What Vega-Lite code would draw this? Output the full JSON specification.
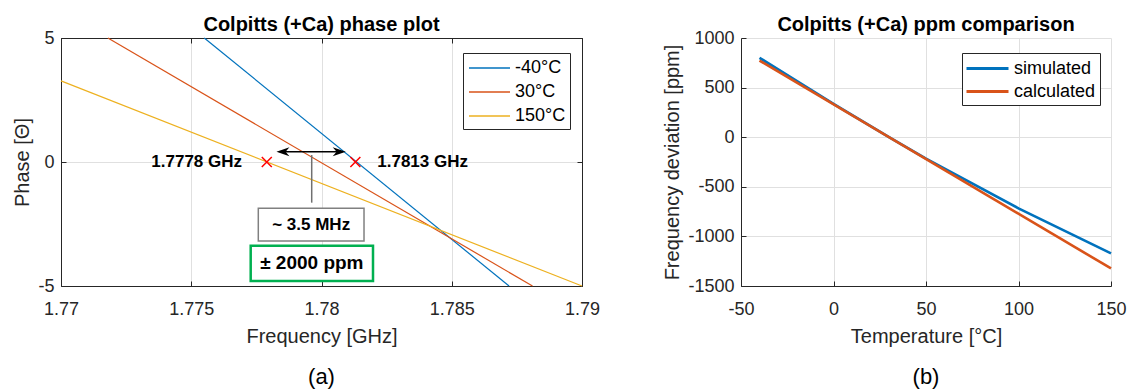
{
  "$schema": "https://vega.github.io/schema/vega-lite/v6.json",
  "background": "white",
  "padding": {"left": 12, "top": 15, "right": 0, "bottom": 0},
  "autosize": {"type": "pad"},
  "spacing": 159,
  "bounds": "flush",
  "config": {
    "view": {"stroke": null},
    "font": "Liberation Sans",
    "axis": {
      "domainColor": "#262626", "domainWidth": 1,
      "tickColor": "#262626", "tickSize": -5, "tickWidth": 1,
      "labelColor": "#262626", "labelFont": "Liberation Sans", "labelFontSize": 18,
      "titleFont": "Liberation Sans", "titleFontSize": 20, "titleFontWeight": "normal", "titleColor": "#262626",
      "gridColor": "#e0e0e0", "gridWidth": 1,
      "labelFlush": false, "labelOverlap": false
    },
    "axisX": {"labelPadding": 19, "titlePadding": 8},
    "axisY": {"labelPadding": 12, "titlePadding": 5},
    "title": {"font": "Liberation Sans", "fontSize": 20, "fontWeight": "bold", "color": "#000000", "anchor": "middle", "offset": -6, "baseline": "alphabetic"}
  },
  "datasets": {
    "phase": [
      {"freq": 1.7755, "phase": 5, "temp": "-40°C"},
      {"freq": 1.7872, "phase": -5, "temp": "-40°C"},
      {"freq": 1.7718, "phase": 5, "temp": "30°C"},
      {"freq": 1.7881, "phase": -5, "temp": "30°C"},
      {"freq": 1.77, "phase": 3.27, "temp": "150°C"},
      {"freq": 1.79, "phase": -5, "temp": "150°C"}
    ],
    "markers": [
      {"freq": 1.7779, "phase": 0},
      {"freq": 1.7813, "phase": 0}
    ],
    "sim": [
      {"T": -40, "ppm": 800, "method": "simulated"},
      {"T": 0, "ppm": 335, "method": "simulated"},
      {"T": 30, "ppm": 0, "method": "simulated"},
      {"T": 50, "ppm": -215, "method": "simulated"},
      {"T": 100, "ppm": -717, "method": "simulated"},
      {"T": 150, "ppm": -1171, "method": "simulated"}
    ],
    "calc": [
      {"T": -40, "ppm": 772, "method": "calculated"},
      {"T": 150, "ppm": -1323, "method": "calculated"}
    ]
  },
  "resolve": {"scale": {"color": "independent"}, "legend": {"color": "independent"}},
  "hconcat": [
    {
      "width": 521,
      "height": 248,
      "title": {"text": "Colpitts (+Ca) phase plot"},
      "resolve": {"axis": {"x": "independent", "y": "independent"}},
      "layer": [
        {
          "layer": [
            {
              "data": {"name": "phase"},
              "mark": {"type": "line", "strokeWidth": 1.2},
              "encoding": {
                "x": {"field": "freq", "type": "quantitative",
                  "scale": {"domain": [1.77, 1.79], "nice": false, "zero": false},
                  "axis": {"title": "Frequency [GHz]", "values": [1.77, 1.775, 1.78, 1.785, 1.79], "labelExpr": "toString(datum.value)"}},
                "y": {"field": "phase", "type": "quantitative",
                  "scale": {"domain": [-5, 5], "nice": false, "zero": false},
                  "axis": {"title": "Phase [Θ]", "values": [-5, 0, 5], "labelExpr": "toString(datum.value)"}},
                "color": {"field": "temp", "type": "nominal",
                  "scale": {"domain": ["-40°C", "30°C", "150°C"], "range": ["#0072BD", "#D95319", "#EDB120"]},
                  "legend": {"title": null, "orient": "none", "legendX": 402, "legendY": 15,
                    "strokeColor": "#262626", "fillColor": "white", "padding": 4,
                    "symbolType": "M-2.05,0H2.05", "symbolSize": 400, "symbolStrokeWidth": 1.3,
                    "symbolOffset": 11.5, "labelOffset": 14.5,
                    "labelFontSize": 18, "labelFont": "Liberation Sans", "labelColor": "#000000",
                    "rowPadding": 4}}
              }
            },
            {
              "data": {"name": "markers"},
              "mark": {"type": "point", "shape": "M-1,-1L1,1M1,-1L-1,1", "filled": false, "stroke": "#ff0000", "strokeWidth": 1.5, "size": 100, "opacity": 1},
              "encoding": {
                "x": {"field": "freq", "type": "quantitative"},
                "y": {"field": "phase", "type": "quantitative"}
              }
            },
            {
              "data": {"values": [{}]},
              "mark": {"type": "text", "text": "1.7778 GHz", "align": "right", "baseline": "middle", "fontWeight": "bold", "fontSize": 17, "font": "Liberation Sans", "color": "#000000"},
              "encoding": {"x": {"datum": 1.77695, "type": "quantitative"}, "y": {"datum": 0, "type": "quantitative"}}
            },
            {
              "data": {"values": [{}]},
              "mark": {"type": "text", "text": "1.7813 GHz", "align": "left", "baseline": "middle", "fontWeight": "bold", "fontSize": 17, "font": "Liberation Sans", "color": "#000000"},
              "encoding": {"x": {"datum": 1.78214, "type": "quantitative"}, "y": {"datum": 0, "type": "quantitative"}}
            },
            {
              "data": {"values": [{}]},
              "mark": {"type": "rule", "color": "#000000", "strokeWidth": 1.5},
              "encoding": {"x": {"datum": 1.7784, "type": "quantitative"}, "x2": {"datum": 1.7808}, "y": {"datum": 0.415, "type": "quantitative"}}
            },
            {
              "data": {"values": [{}]},
              "mark": {"type": "point", "shape": "M-1,0L1,-0.7L0.4,0L1,0.7Z", "filled": true, "fill": "#000000", "size": 169, "opacity": 1},
              "encoding": {"x": {"datum": 1.77852, "type": "quantitative"}, "y": {"datum": 0.415, "type": "quantitative"}}
            },
            {
              "data": {"values": [{}]},
              "mark": {"type": "point", "shape": "M1,0L-1,-0.7L-0.4,0L-1,0.7Z", "filled": true, "fill": "#000000", "size": 169, "opacity": 1},
              "encoding": {"x": {"datum": 1.78068, "type": "quantitative"}, "y": {"datum": 0.415, "type": "quantitative"}}
            },
            {
              "data": {"values": [{}]},
              "mark": {"type": "rule", "color": "#707070", "strokeWidth": 1.5},
              "encoding": {"x": {"datum": 1.779624, "type": "quantitative"}, "y": {"datum": 0.28, "type": "quantitative"}, "y2": {"datum": -1.64}}
            },
            {
              "data": {"values": [{}]},
              "mark": {"type": "rect", "fill": "white", "stroke": "#808080", "strokeWidth": 1.5},
              "encoding": {"x": {"datum": 1.777574, "type": "quantitative"}, "x2": {"datum": 1.781632}, "y": {"datum": -1.867, "type": "quantitative"}, "y2": {"datum": -3.185}}
            },
            {
              "data": {"values": [{}]},
              "mark": {"type": "text", "text": "~ 3.5 MHz", "align": "center", "baseline": "middle", "fontWeight": "bold", "fontSize": 17, "font": "Liberation Sans", "color": "#000000"},
              "encoding": {"x": {"datum": 1.779603, "type": "quantitative"}, "y": {"datum": -2.526, "type": "quantitative"}}
            },
            {
              "data": {"values": [{}]},
              "mark": {"type": "rect", "fill": "white", "stroke": "#00b050", "strokeWidth": 2.5},
              "encoding": {"x": {"datum": 1.777282, "type": "quantitative"}, "x2": {"datum": 1.781977}, "y": {"datum": -3.375, "type": "quantitative"}, "y2": {"datum": -4.798}}
            },
            {
              "data": {"values": [{}]},
              "mark": {"type": "text", "text": "± 2000 ppm", "align": "center", "baseline": "middle", "fontWeight": "bold", "fontSize": 19, "font": "Liberation Sans", "color": "#000000"},
              "encoding": {"x": {"datum": 1.779628, "type": "quantitative"}, "y": {"datum": -4.09, "type": "quantitative"}}
            },
            {
              "data": {"values": [{}]},
              "mark": {"type": "text", "text": "(a)", "align": "center", "baseline": "middle", "fontSize": 22, "font": "Liberation Sans", "color": "#000000"},
              "encoding": {"x": {"datum": 1.78, "type": "quantitative"}, "y": {"datum": -8.67, "type": "quantitative"}}
            }
          ]
        },
        {
          "data": {"values": [{}]},
          "mark": {"type": "point", "opacity": 0},
          "encoding": {
            "x": {"datum": 1.78, "type": "quantitative", "scale": {"domain": [1.77, 1.79], "nice": false, "zero": false},
              "axis": {"orient": "top", "labels": false, "title": null, "grid": false, "values": [1.77, 1.775, 1.78, 1.785, 1.79]}},
            "y": {"datum": 0, "type": "quantitative", "scale": {"domain": [-5, 5], "nice": false, "zero": false},
              "axis": {"orient": "right", "labels": false, "title": null, "grid": false, "values": [-5, 0, 5]}}
          }
        }
      ]
    },
    {
      "width": 370,
      "height": 248,
      "title": {"text": "Colpitts (+Ca) ppm comparison"},
      "layer": [
        {
          "data": {"name": "sim"},
          "mark": {"type": "line", "strokeWidth": 2.6},
          "encoding": {
            "x": {"field": "T", "type": "quantitative",
              "scale": {"domain": [-50, 150], "nice": false, "zero": false},
              "axis": {"title": "Temperature [°C]", "values": [-50, 0, 50, 100, 150], "labelExpr": "toString(datum.value)"}},
            "y": {"field": "ppm", "type": "quantitative",
              "scale": {"domain": [-1500, 1000], "nice": false, "zero": false},
              "axis": {"title": "Frequency deviation [ppm]", "values": [-1500, -1000, -500, 0, 500, 1000], "labelExpr": "toString(datum.value)"}},
            "color": {"field": "method", "type": "nominal",
              "scale": {"domain": ["simulated", "calculated"], "range": ["#0072BD", "#D95319"]},
              "legend": {"title": null, "orient": "none", "legendX": 221, "legendY": 15,
                "strokeColor": "#262626", "fillColor": "white", "padding": 4,
                "symbolType": "M-2.1,0H2.1", "symbolSize": 400, "symbolStrokeWidth": 3,
                "symbolOffset": 10, "labelOffset": 15,
                "labelFontSize": 18, "labelFont": "Liberation Sans", "labelColor": "#000000",
                "rowPadding": 2}}
          }
        },
        {
          "data": {"name": "calc"},
          "mark": {"type": "line", "strokeWidth": 2.6},
          "encoding": {
            "x": {"field": "T", "type": "quantitative"},
            "y": {"field": "ppm", "type": "quantitative"},
            "color": {"field": "method", "type": "nominal"}
          }
        },
        {
          "data": {"values": [{}]},
          "mark": {"type": "text", "text": "(b)", "align": "center", "baseline": "middle", "fontSize": 22, "font": "Liberation Sans", "color": "#000000"},
          "encoding": {"x": {"datum": 50, "type": "quantitative"}, "y": {"datum": -2417, "type": "quantitative"}}
        }
      ]
    }
  ]
}
